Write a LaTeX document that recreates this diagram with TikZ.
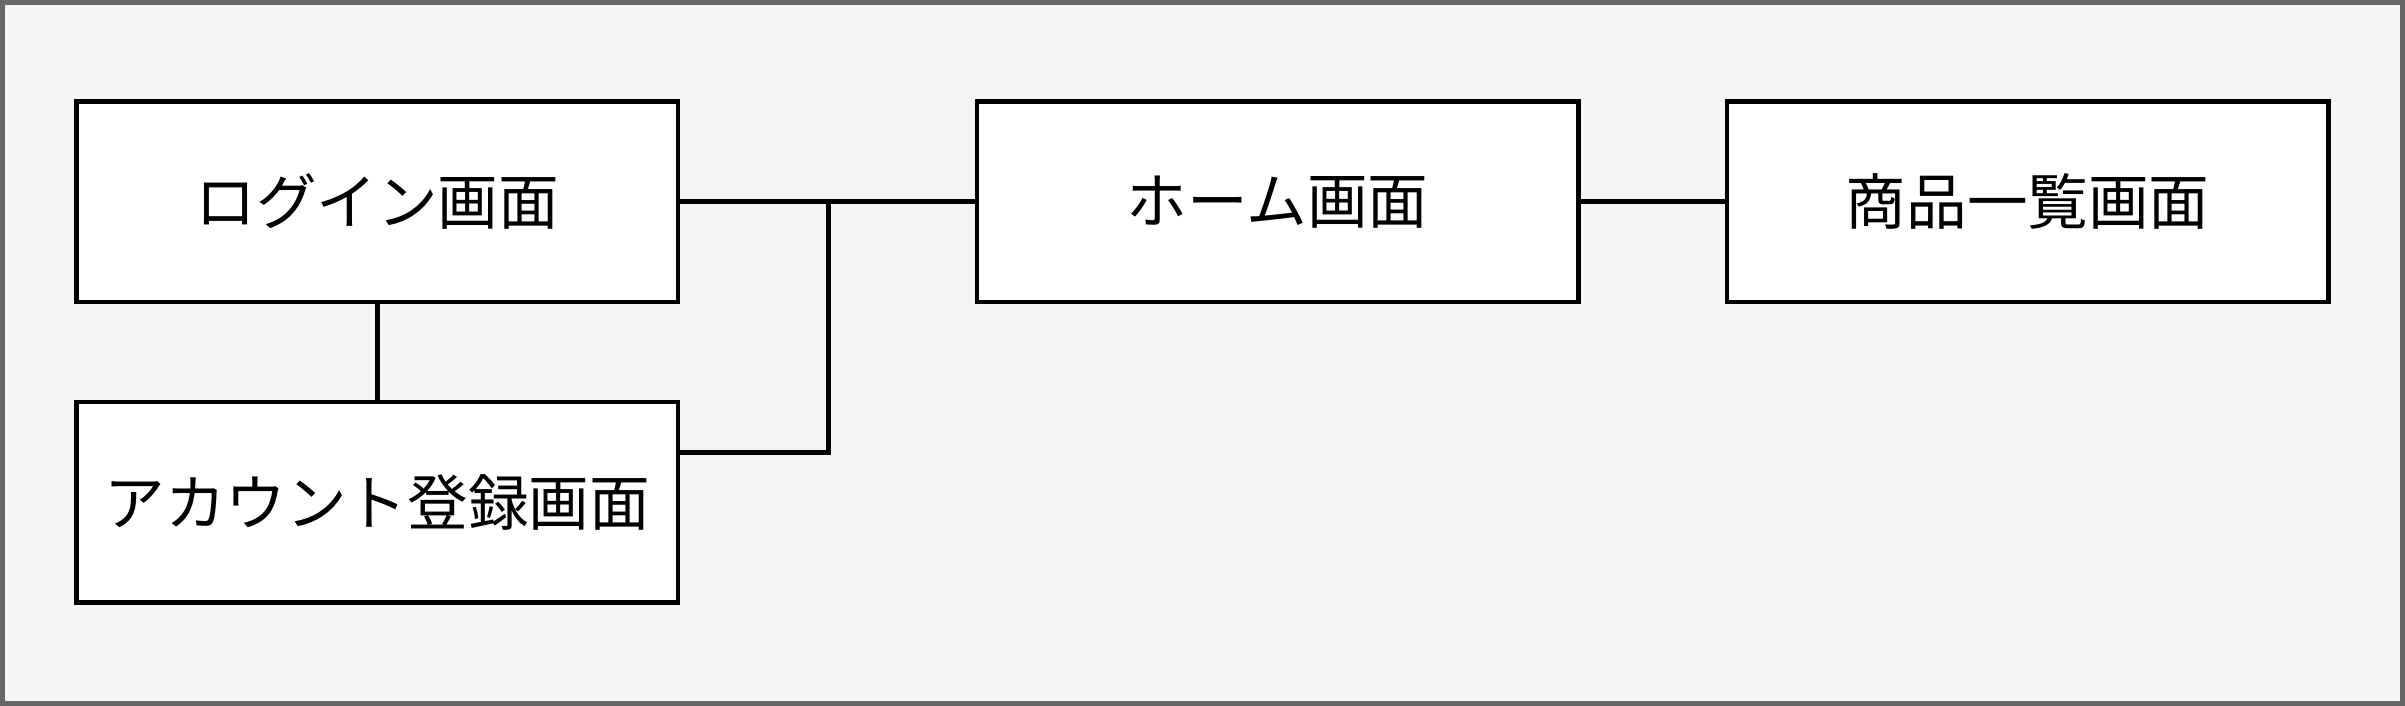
\documentclass[tikz,border=0pt]{standalone}
\usepackage{fontspec}
\setmainfont{Noto Sans CJK JP}
\usetikzlibrary{positioning}
\definecolor{bggray}{HTML}{F5F5F5}
\definecolor{framegray}{HTML}{666666}
\tikzstyle{screen} = [rectangle, draw = black, line width = 1.7pt, fill = white,
minimum width = 7.84cm, minimum height = 2.62cm, text centered, font = \fontsize{22.5}{27}\selectfont]
\tikzstyle{link} = [line width = 1.7pt]

\begin{document}
\begin{tikzpicture}[x = 0.02cm, y = -0.02cm]

    \draw[fill = bggray, draw = framegray, line width = 1.7pt] (1.5,1.5) rectangle (1566.5,458.5);
    \useasboundingbox (0,0) rectangle (1568,460);

    \node (login) [screen] at (246,131.5) {ログイン画面};
    \node (account) [screen] at (246,327.5) {アカウント登録画面};
    \node (home) [screen] at (833,131.5) {ホーム画面};
    \node (items) [screen] at (1322,131.5) {商品一覧画面};
    \coordinate (join) at (540,131.5);
    \coordinate (acc) at (442,295);

    \draw[link] (login) -- (account);
    \draw[link] (login.east) -- (home.west);
    \draw[link] (acc) -| (join);
    \draw[link] (home) -- (items);

\end{tikzpicture}
\end{document}
